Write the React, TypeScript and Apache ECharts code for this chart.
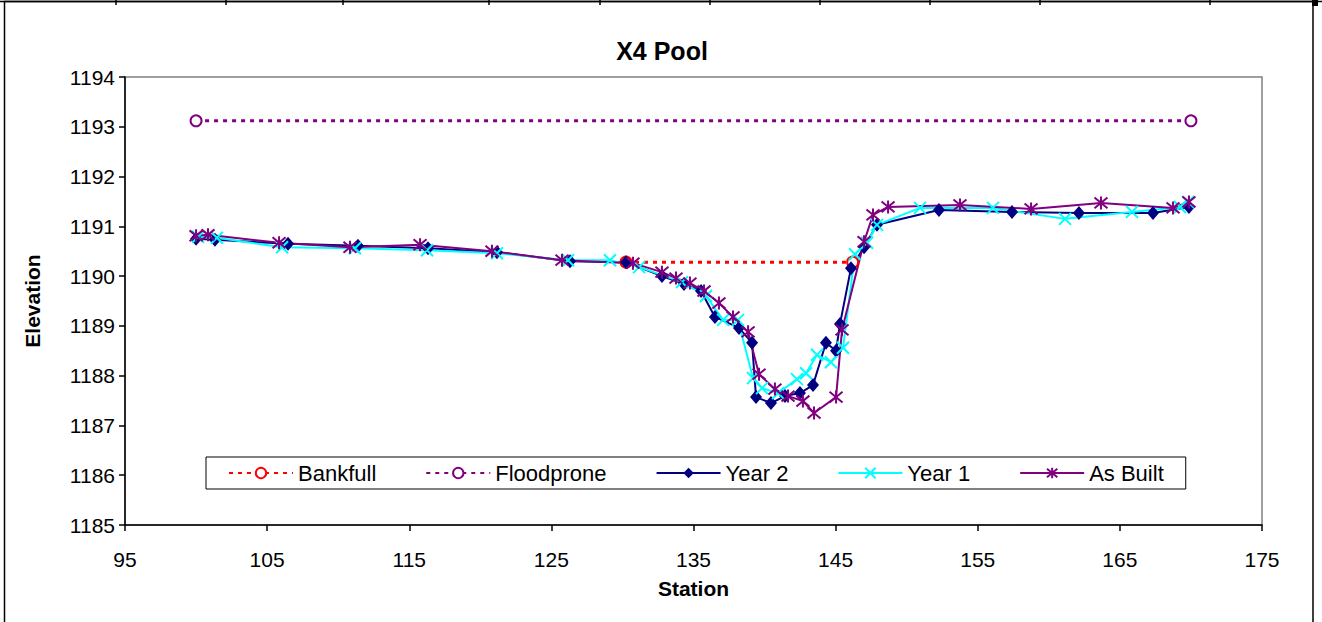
import React, { useEffect, useRef } from "react";
import * as echarts from "echarts";

const titleText = "X4 Pool";
const xTicks = { min: 95, max: 175, interval: 10 };
const yTicks = { min: 1185, max: 1194, interval: 1 };

const bankfullX = [130.25, 146.2];
const bankfullY = [1190.28, 1190.28];

const floodproneX = [100.0, 170.0];
const floodproneY = [1193.12, 1193.12];

const year2X = [100.0, 101.33, 106.47, 111.39, 116.32, 121.17, 126.31, 130.25, 132.78, 134.33, 135.53, 136.51, 138.2, 139.12, 139.4, 140.45, 141.44, 142.49, 143.41, 144.32, 145.03, 145.31, 146.08, 147.0, 147.91, 152.27, 157.41, 162.12, 167.33, 169.86];
const year2Y = [1190.75, 1190.73, 1190.65, 1190.61, 1190.56, 1190.48, 1190.3, 1190.28, 1190.0, 1189.84, 1189.7, 1189.18, 1188.96, 1188.66, 1187.57, 1187.45, 1187.59, 1187.65, 1187.81, 1188.66, 1188.5, 1189.04, 1190.16, 1190.58, 1191.03, 1191.33, 1191.29, 1191.27, 1191.27, 1191.39];

const year1X = [100.14, 101.47, 106.05, 111.18, 116.25, 121.17, 126.17, 129.12, 131.17, 134.19, 135.88, 137.08, 138.13, 139.19, 139.82, 140.95, 142.28, 142.92, 143.69, 144.67, 145.52, 146.36, 147.21, 147.91, 150.94, 156.07, 161.14, 165.85, 169.23, 169.8];
const year1Y = [1190.79, 1190.77, 1190.58, 1190.56, 1190.52, 1190.46, 1190.32, 1190.32, 1190.18, 1189.88, 1189.6, 1189.12, 1189.12, 1187.95, 1187.75, 1187.65, 1187.93, 1188.05, 1188.42, 1188.27, 1188.56, 1190.44, 1190.67, 1191.03, 1191.37, 1191.37, 1191.15, 1191.29, 1191.39, 1191.49];

const asBuiltX = [100.0, 100.84, 105.84, 110.83, 115.76, 120.82, 125.75, 130.74, 132.78, 133.77, 134.75, 135.74, 136.79, 137.78, 138.84, 139.61, 140.73, 141.65, 142.7, 143.48, 145.03, 145.45, 147.0, 147.63, 148.69, 153.75, 158.75, 163.67, 168.74, 169.86];
const asBuiltY = [1190.81, 1190.83, 1190.67, 1190.58, 1190.63, 1190.5, 1190.32, 1190.26, 1190.08, 1189.96, 1189.86, 1189.7, 1189.46, 1189.18, 1188.88, 1188.03, 1187.73, 1187.59, 1187.49, 1187.25, 1187.57, 1188.92, 1190.69, 1191.23, 1191.39, 1191.43, 1191.35, 1191.47, 1191.37, 1191.49];

const seriesNames = ["Bankfull", "Floodprone", "Year 2", "Year 1", "As Built"];
const cellBorderX = [116, 226, 343, 489, 600, 710, 820, 930, 1040, 1210];

const zip = (xs: number[], ys: number[]) => xs.map((x, i) => [x, ys[i]]);

const FONT = "'Liberation Sans', Arial, sans-serif";

export default function App() {
  const ref = useRef<HTMLDivElement>(null);
  useEffect(() => {
    document.body.style.margin = "0";
    if (!ref.current) return;
    const chart = echarts.init(ref.current, null, { renderer: "svg" });
    const crossPath = "path://M0,0L10,10M10,0L0,10";
    const starPath = "path://M0,0L10,10M10,0L0,10M5,-1L5,11";
    const graphics: any[] = [
      { type: "line", shape: { x1: 0, y1: 1.5, x2: 1322, y2: 1.5 }, style: { stroke: "#000", lineWidth: 1.5 } },
      { type: "rect", shape: { x: 4.5, y: 1.5, width: 1308.5, height: 640 }, style: { fill: "none", stroke: "#000", lineWidth: 1.5 } },
      { type: "rect", shape: { x: 1312, y: 0, width: 6, height: 6 }, style: { fill: "#000" } },
      ...cellBorderX.map((x) => ({
        type: "line",
        shape: { x1: x, y1: 0, x2: x, y2: 5 },
        style: { stroke: "#000", lineWidth: 1.5 },
      })),
    ];
    chart.setOption({
      animation: false,
      backgroundColor: "#fff",
      textStyle: { fontFamily: FONT },
      title: {
        text: titleText,
        left: 657,
        top: 33,
        textAlign: "center",
        textStyle: { fontFamily: FONT, fontWeight: "bold", fontSize: 25, color: "#000" },
      },
      graphic: graphics,
      grid: {
        left: 125,
        right: 60,
        top: 77,
        bottom: 97,
        show: true,
        borderColor: "#808080",
        borderWidth: 1.5,
        backgroundColor: "transparent",
      },
      legend: {
        left: 206,
        top: 457,
        orient: "horizontal",
        data: seriesNames,
        itemWidth: 64,
        itemHeight: 13,
        itemGap: 49,
        padding: [5, 22, 5, 22],
        borderColor: "#000",
        borderWidth: 1,
        backgroundColor: "#fff",
        textStyle: { fontFamily: FONT, fontSize: 22, color: "#000" },
      },
      xAxis: {
        type: "value",
        min: xTicks.min,
        max: xTicks.max,
        interval: xTicks.interval,
        name: "Station",
        nameLocation: "middle",
        nameGap: 53,
        nameTextStyle: { fontFamily: FONT, fontWeight: "bold", fontSize: 21, color: "#000" },
        axisLine: { show: true, lineStyle: { color: "#000", width: 1.5 } },
        axisTick: { show: true, inside: false, length: 6, lineStyle: { color: "#000", width: 1.5 } },
        axisLabel: { margin: 24, fontFamily: FONT, fontSize: 21, color: "#000", formatter: (v: number) => String(v) },
        splitLine: { show: false },
      },
      yAxis: {
        type: "value",
        min: yTicks.min,
        max: yTicks.max,
        interval: yTicks.interval,
        name: "Elevation",
        nameLocation: "middle",
        nameGap: 82,
        nameTextStyle: { fontFamily: FONT, fontWeight: "bold", fontSize: 21, color: "#000" },
        axisLine: { show: true, lineStyle: { color: "#000", width: 1.5 } },
        axisTick: { show: true, inside: false, length: 6, lineStyle: { color: "#000", width: 1.5 } },
        axisLabel: { margin: 10, fontFamily: FONT, fontSize: 21, color: "#000", formatter: (v: number) => String(v) },
        splitLine: { show: false },
      },
      series: [
        {
          name: "Bankfull",
          type: "line",
          data: zip(bankfullX, bankfullY),
          symbol: "emptyCircle",
          symbolSize: 11,
          lineStyle: { color: "#FF0000", width: 3, type: [4, 5] },
          itemStyle: { color: "#FF0000", borderColor: "#FF0000", borderWidth: 2 },
        },
        {
          name: "Floodprone",
          type: "line",
          data: zip(floodproneX, floodproneY),
          symbol: "emptyCircle",
          symbolSize: 11,
          lineStyle: { color: "#800080", width: 3, type: [4, 5] },
          itemStyle: { color: "#800080", borderColor: "#800080", borderWidth: 2 },
        },
        {
          name: "Year 2",
          type: "line",
          data: zip(year2X, year2Y),
          symbol: "diamond",
          symbolSize: [12, 14],
          lineStyle: { color: "#000080", width: 2 },
          itemStyle: { color: "#000080" },
        },
        {
          name: "Year 1",
          type: "line",
          data: zip(year1X, year1Y),
          symbol: crossPath,
          symbolSize: 12,
          lineStyle: { color: "#00FFFF", width: 2 },
          itemStyle: { color: "#00FFFF", borderColor: "#00FFFF", borderWidth: 2 },
        },
        {
          name: "As Built",
          type: "line",
          data: zip(asBuiltX, asBuiltY),
          symbol: starPath,
          symbolSize: 13,
          lineStyle: { color: "#800080", width: 2 },
          itemStyle: { color: "#800080", borderColor: "#800080", borderWidth: 2 },
        },
      ],
    });
    return () => chart.dispose();
  }, []);
  return <div ref={ref} style={{ position: "absolute", left: 0, top: 0, width: 1322, height: 622 }} />;
}
